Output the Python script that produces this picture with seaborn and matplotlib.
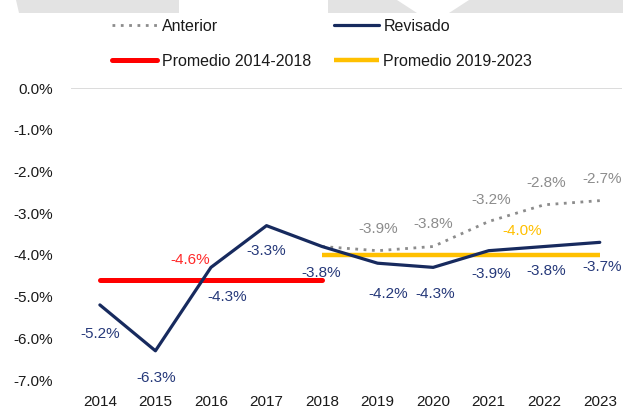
import matplotlib
matplotlib.use("Agg")
import matplotlib.pyplot as plt
from matplotlib.patches import Polygon
from matplotlib.ticker import FuncFormatter
import seaborn as sns
import pandas as pd

# data
years = [2014, 2015, 2016, 2017, 2018, 2019, 2020, 2021, 2022, 2023]
revisado = [-5.2, -6.3, -4.3, -3.3, -3.8, -4.2, -4.3, -3.9, -3.8, -3.7]
anterior_years = [2018, 2019, 2020, 2021, 2022, 2023]
anterior = [-3.8, -3.9, -3.8, -3.2, -2.8, -2.7]
prom1_years = [2014, 2018]
prom1 = [-4.6, -4.6]
prom2_years = [2018, 2023]
prom2 = [-4.0, -4.0]
yticks = [0, -1, -2, -3, -4, -5, -6, -7]

NAVY = "#172a5e"
GRAY = "#8c8c8c"
RED = "#ff0000"
YELLOW = "#ffc000"

sns.set_style("white")
plt.rcParams["font.family"] = ["Liberation Sans", "DejaVu Sans"]

fig = plt.figure(figsize=(6.23, 4.12), dpi=100)
ax = fig.add_axes([71 / 623, 32 / 412, 551 / 623, 292 / 412])

# light grey watermark band at the top
wm = [
    [(16, 0), (179, 0), (179, 13), (19, 13)],
    [(328, 0), (397, 0), (417, 13), (328, 13)],
    [(469, 0), (623, 0), (623, 13), (449, 13)],
]
for pts in wm:
    fig.patches.append(Polygon([(x / 623, 1 - y / 412) for x, y in pts],
                               closed=True, transform=fig.transFigure,
                               facecolor="#e3e3e3", edgecolor="none", zorder=0))

ax.axhline(0, color="#d9d9d9", lw=1.3, zorder=0)

df_rev = pd.DataFrame({"year": years, "val": revisado})
df_ant = pd.DataFrame({"year": anterior_years, "val": anterior})
df_p1 = pd.DataFrame({"year": prom1_years, "val": prom1})
df_p2 = pd.DataFrame({"year": prom2_years, "val": prom2})

sns.lineplot(data=df_ant, x="year", y="val", ax=ax, color=GRAY, lw=2,
             linestyle=(0, (1, 2)), label="Anterior", zorder=2)
sns.lineplot(data=df_p1, x="year", y="val", ax=ax, color=RED, lw=3.6,
             solid_capstyle="round", label="Promedio 2014-2018", zorder=3)
sns.lineplot(data=df_rev, x="year", y="val", ax=ax, color=NAVY, lw=2.3,
             label="Revisado", zorder=4)
sns.lineplot(data=df_p2, x="year", y="val", ax=ax, color=YELLOW, lw=3.2,
             solid_capstyle="butt", label="Promedio 2019-2023", zorder=3)

if ax.get_legend() is not None:
    ax.get_legend().remove()

# data labels
rev_off = [(0, -29), (1, -27), (16, -30), (0, -25), (-1, -26),
           (11, -31), (2, -27), (2, -23), (2, -24), (2, -25)]
for x, v, off in zip(years, revisado, rev_off):
    ax.annotate(f"{v:.1f}%", (x, v), xytext=off, textcoords="offset pixels",
                ha="center", va="center", fontsize=11, color="#26397a", zorder=5)

ant_off = [None, (1, 22), (0, 23), (2, 21), (2, 22), (2, 22)]
for x, v, off in zip(anterior_years, anterior, ant_off):
    if off is None:
        continue
    ax.annotate(f"{v:.1f}%", (x, v), xytext=off, textcoords="offset pixels",
                ha="center", va="center", fontsize=11, color=GRAY, zorder=5)

ax.annotate(f"{prom1[0]:.1f}%", (sum(prom1_years) / 2, prom1[0]), xytext=(-21, 20),
            textcoords="offset pixels", ha="center", va="center",
            fontsize=11, color="#ff2a2a", zorder=5)
ax.annotate(f"{prom2[0]:.1f}%", (2021, prom2[0]), xytext=(33, 24),
            textcoords="offset pixels", ha="center", va="center",
            fontsize=11, color=YELLOW, zorder=5)

ax.set_xlim(2013.48, 2023.4)
ax.set_ylim(-7, 0)
ax.set_xticks(years)
ax.set_yticks(yticks)
ax.yaxis.set_major_formatter(FuncFormatter(lambda v, p: f"{v:.1f}%"))
ax.tick_params(axis="x", length=0, pad=11, labelsize=11, labelcolor="#1a1a1a")
ax.tick_params(axis="y", length=0, pad=13, labelsize=11, labelcolor="#1a1a1a")
ax.set_xlabel("")
ax.set_ylabel("")
for s in ax.spines.values():
    s.set_visible(False)

h, l = ax.get_legend_handles_labels()
order = [l.index(n) for n in ["Anterior", "Promedio 2014-2018", "Revisado", "Promedio 2019-2023"]]
fig.legend([h[i] for i in order], [l[i] for i in order], ncol=2,
           loc="upper left", bbox_to_anchor=(112 / 623, 1 - 19 / 412),
           frameon=False, fontsize=11.5, handlelength=2.8, handletextpad=0.3,
           columnspacing=1.45, labelspacing=1.25, borderpad=0, borderaxespad=0,
           labelcolor="#1a1a1a")

fig.savefig("out.png", dpi=100)
